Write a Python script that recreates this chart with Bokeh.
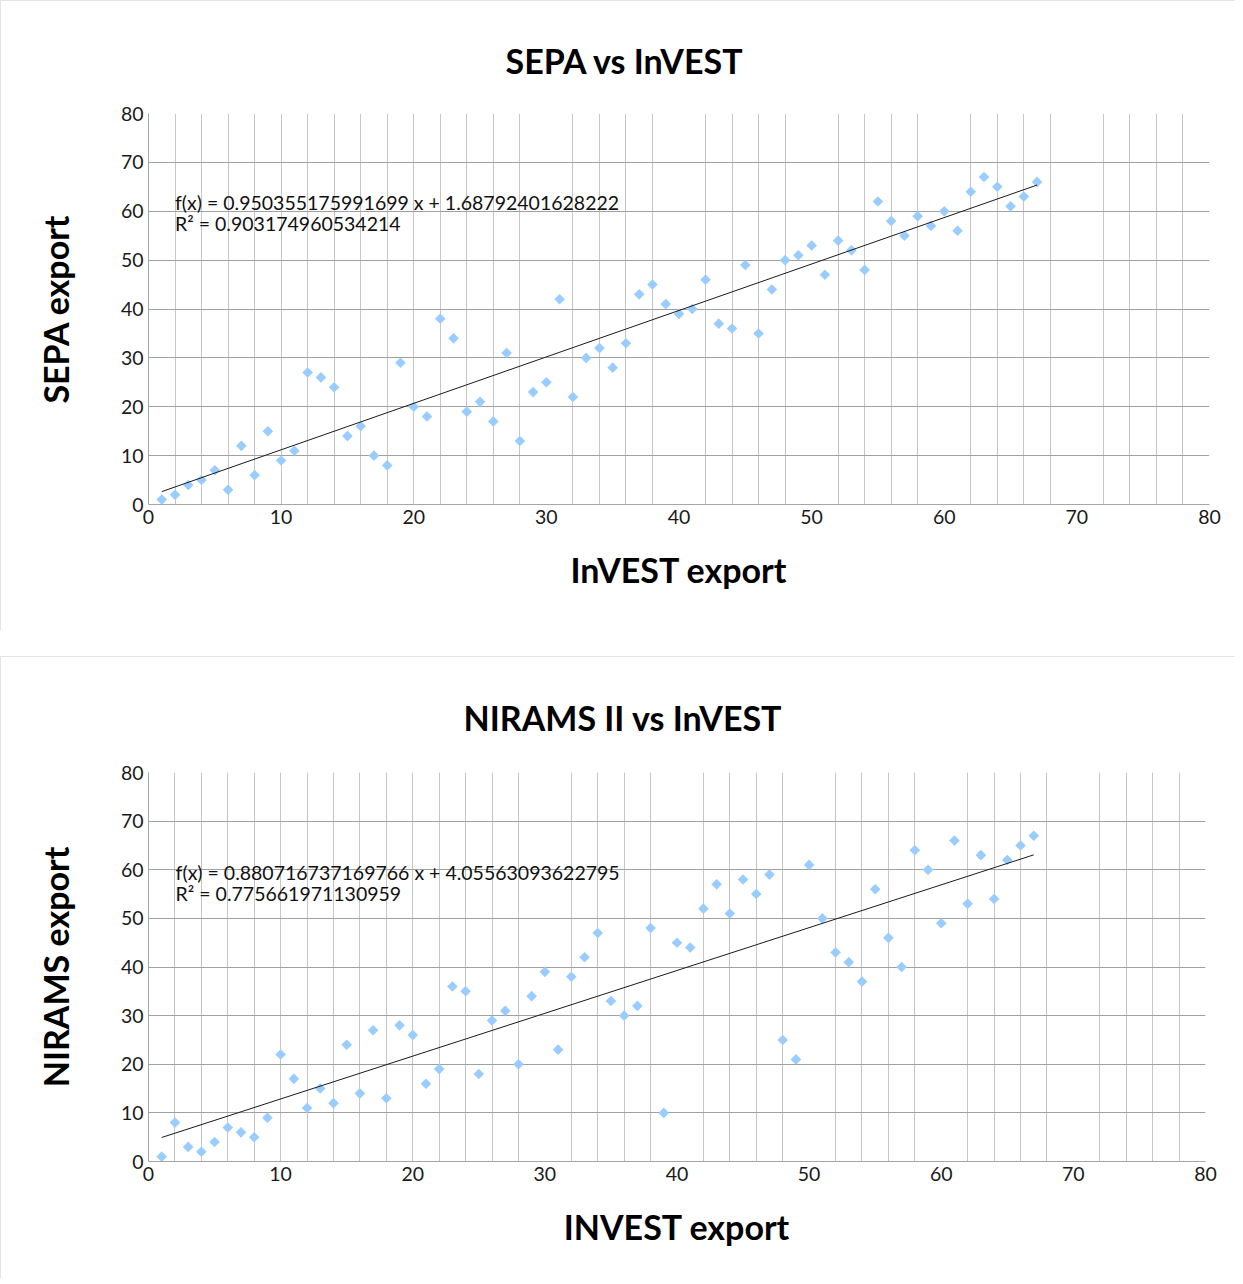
import numpy as np
from bokeh.plotting import figure
from bokeh.layouts import column
from bokeh.models import Range1d, FixedTicker, Label, ColumnDataSource
from bokeh.embed import file_html
from bokeh.resources import INLINE

# ---------------- data ----------------
invest_export = [1, 2, 3, 4, 5, 6, 7, 8, 9, 10, 11, 12, 13, 14, 15, 16, 17, 18, 19, 20,
                 21, 22, 23, 24, 25, 26, 27, 28, 29, 30, 31, 32, 33, 34, 35, 36, 37, 38, 39, 40,
                 41, 42, 43, 44, 45, 46, 47, 48, 49, 50, 51, 52, 53, 54, 55, 56, 57, 58, 59, 60,
                 61, 62, 63, 64, 65, 66, 67]
sepa_export = [1, 2, 4, 5, 7, 3, 12, 6, 15, 9, 11, 27, 26, 24, 14, 16, 10, 8, 29, 20,
               18, 38, 34, 19, 21, 17, 31, 13, 23, 25, 42, 22, 30, 32, 28, 33, 43, 45, 41, 39,
               40, 46, 37, 36, 49, 35, 44, 50, 51, 53, 47, 54, 52, 48, 62, 58, 55, 59, 57, 60,
               56, 64, 67, 65, 61, 63, 66]
nirams_export = [1, 8, 3, 2, 4, 7, 6, 5, 9, 22, 17, 11, 15, 12, 24, 14, 27, 13, 28, 26,
                 16, 19, 36, 35, 18, 29, 31, 20, 34, 39, 23, 38, 42, 47, 33, 30, 32, 48, 10, 45,
                 44, 52, 57, 51, 58, 55, 59, 25, 21, 61, 50, 43, 41, 37, 56, 46, 40, 64, 60, 49,
                 66, 53, 63, 54, 62, 65, 67]

sepa_slope, sepa_intercept, sepa_r2 = 0.950355175991699, 1.68792401628222, 0.903174960534214
nir_slope, nir_intercept, nir_r2 = 0.880716737169766, 4.05563093622795, 0.775661971130959

axis_ticks = [0, 10, 20, 30, 40, 50, 60, 70, 80]
x_grid_ticks = [2, 4, 6, 8, 10, 12, 14, 16, 18, 20, 22, 24, 26, 28, 32, 34, 36, 38,
                42, 44, 46, 48, 52, 54, 56, 58, 62, 64, 66, 68, 72, 74, 76, 78]
y_grid_ticks = [10, 20, 30, 40, 50, 60, 70, 80]

FONT = "Lato"
MARKER = "#99ccff"


def make_panel(xs, ys, slope, intercept, r2, title, xlab, ylab,
               fw, fh, bl, br, bt, bb, title_offset, title_standoff, eq_pos):
    p = figure(frame_width=fw, frame_height=fh,
               min_border_left=bl, min_border_right=br,
               min_border_top=bt, min_border_bottom=bb,
               x_range=Range1d(0, 80), y_range=Range1d(0, 80),
               output_backend="svg", toolbar_location=None,
               background_fill_color="white", border_fill_color="white")
    p.outline_line_color = None
    p.styles = {"border-top": "1px solid #e4e4e4", "border-left": "1px solid #e4e4e4"}

    p.title.text = title
    p.title.align = "left"
    p.title.offset = title_offset
    p.title.standoff = title_standoff
    p.title.text_font = FONT
    p.title.text_font_size = "34px"
    p.title.text_font_style = "bold"
    p.title.text_color = "black"

    for ax in (p.xaxis[0], p.yaxis[0]):
        ax.ticker = FixedTicker(ticks=axis_ticks)
        ax.major_tick_out = 0
        ax.major_tick_in = 0
        ax.minor_tick_out = 0
        ax.minor_tick_in = 0
        ax.axis_line_color = "#a6a6a6"
        ax.axis_line_width = 1
        ax.major_label_text_font = FONT
        ax.major_label_text_font_size = "19.5px"
        ax.major_label_text_color = "#1a1a1a"
        ax.major_label_standoff = 5
        ax.axis_label_text_font = FONT
        ax.axis_label_text_font_size = "34px"
        ax.axis_label_text_font_style = "bold"
        ax.axis_label_text_color = "black"
    p.xaxis[0].axis_label = xlab
    p.xaxis[0].axis_label_standoff = 22
    p.yaxis[0].axis_label = ylab
    p.yaxis[0].axis_label_standoff = 42

    p.xgrid[0].ticker = FixedTicker(ticks=x_grid_ticks)
    p.xgrid[0].grid_line_color = "#c6c6c6"
    p.xgrid[0].grid_line_width = 1
    p.ygrid[0].ticker = FixedTicker(ticks=y_grid_ticks)
    p.ygrid[0].grid_line_color = "#a0a0a0"
    p.ygrid[0].grid_line_width = 1

    src = ColumnDataSource(dict(x=xs, y=ys))
    p.scatter("x", "y", source=src, marker="square", angle=np.pi / 4, size=7.5,
              fill_color=MARKER, line_color=None)

    x0, x1 = min(xs), max(xs)
    p.line([x0, x1], [slope * x0 + intercept, slope * x1 + intercept],
           line_color="#1a1a1a", line_width=1)

    eq1 = "f(x) = %s x + %s" % (repr(slope), repr(intercept))
    eq2 = "R\u00b2 = %s" % repr(r2)
    p.add_layout(Label(x=eq_pos[0], y=eq_pos[1], text=eq1, text_font=FONT,
                       text_font_size="19.5px", text_color="#111111",
                       text_baseline="middle", text_align="left"))
    p.add_layout(Label(x=eq_pos[0], y=eq_pos[2], text=eq2, text_font=FONT,
                       text_font_size="19.5px", text_color="#111111",
                       text_baseline="middle", text_align="left"))
    return p


p1 = make_panel(invest_export, sepa_export, sepa_slope, sepa_intercept, sepa_r2,
                "SEPA vs InVEST", "InVEST export", "SEPA export",
                1060, 390, 147, 27, 112, 127, 357, 66, (2.0, 61.7, 57.4))
p2 = make_panel(invest_export, nirams_export, nir_slope, nir_intercept, nir_r2,
                "NIRAMS II vs InVEST", "INVEST export", "NIRAMS export",
                1056, 388, 147, 31, 115, 118, 315, 70, (2.05, 59.5, 55.2))

layout = column(p1, p2, spacing=26)
open("out.html", "w").write(file_html(layout, INLINE))
